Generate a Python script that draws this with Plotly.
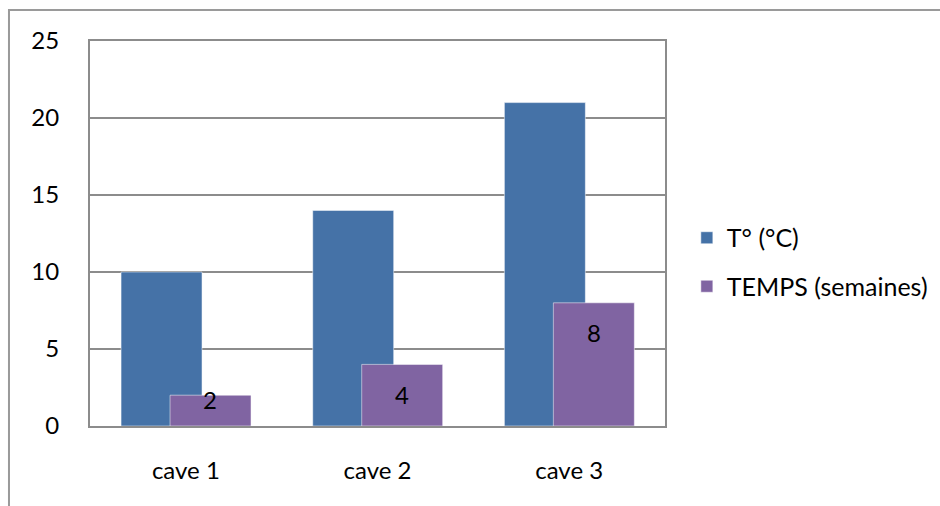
import plotly.graph_objects as go

categories = ["cave 1", "cave 2", "cave 3"]
temp_values = [10, 14, 21]
time_values = [2, 4, 8]
series_names = ["T° (°C)", "TEMPS (semaines)"]
y_ticks = [0, 5, 10, 15, 20, 25]

FONT = "Lato, Carlito, 'Liberation Sans', sans-serif"
BLUE = "#4572A7"
PURPLE = "#8064A2"
GRID = "#8c8c8c"

fig = go.Figure()
fig.add_trace(go.Bar(
    x=categories, y=temp_values, name=series_names[0],
    marker=dict(color=BLUE, line=dict(color="rgba(255,255,255,0.5)", width=1)),
    width=0.4225, offset=-0.338, legendgroup="a",
))
fig.add_trace(go.Bar(
    x=categories, y=time_values, name=series_names[1],
    marker=dict(color=PURPLE, line=dict(color="rgba(255,255,255,0.5)", width=1)),
    width=0.4225, offset=-0.0824, legendgroup="b",
))

label_shifts = [-4, -30, -30]
for i, (c, v) in enumerate(zip(categories, time_values)):
    fig.add_annotation(
        x=c, y=v, text=str(v), showarrow=False, xshift=24.5,
        yshift=label_shifts[i], yanchor="middle",
        font=dict(family=FONT, size=24, color="black"),
    )

# outer chart frame
fig.add_shape(type="rect", xref="paper", yref="paper",
              x0=-0.1409, x1=6, y0=-6, y1=1.0805,
              line=dict(color="#9a9a9a", width=2), fillcolor="rgba(0,0,0,0)",
              layer="below")

fig.update_layout(
    width=940, height=506,
    margin=dict(l=90, r=275, t=41, b=80, autoexpand=False),
    paper_bgcolor="white", plot_bgcolor="white",
    barmode="overlay",
    font=dict(family=FONT, size=24, color="black"),
    showlegend=True,
    legend=dict(
        x=1.038, xanchor="left", xref="paper", y=0.426, yanchor="middle",
        font=dict(family=FONT, size=25, color="black"),
        traceorder="grouped", tracegroupgap=13,
        bgcolor="rgba(0,0,0,0)", itemclick=False,
    ),
    xaxis=dict(
        type="category", showgrid=False, ticks="",
        showline=True, linecolor=GRID, linewidth=2, mirror=True,
        ticklabelstandoff=22,
        tickfont=dict(family=FONT, size=24, color="black"),
    ),
    yaxis=dict(
        range=[0, 25], tickvals=y_ticks, showgrid=True, gridcolor=GRID,
        gridwidth=1.5, zeroline=False, ticks="",
        showline=True, linecolor=GRID, linewidth=2, mirror=True,
        ticklabelstandoff=24,
        tickfont=dict(family=FONT, size=24, color="black"),
    ),
)

fig.write_html("out.html")
